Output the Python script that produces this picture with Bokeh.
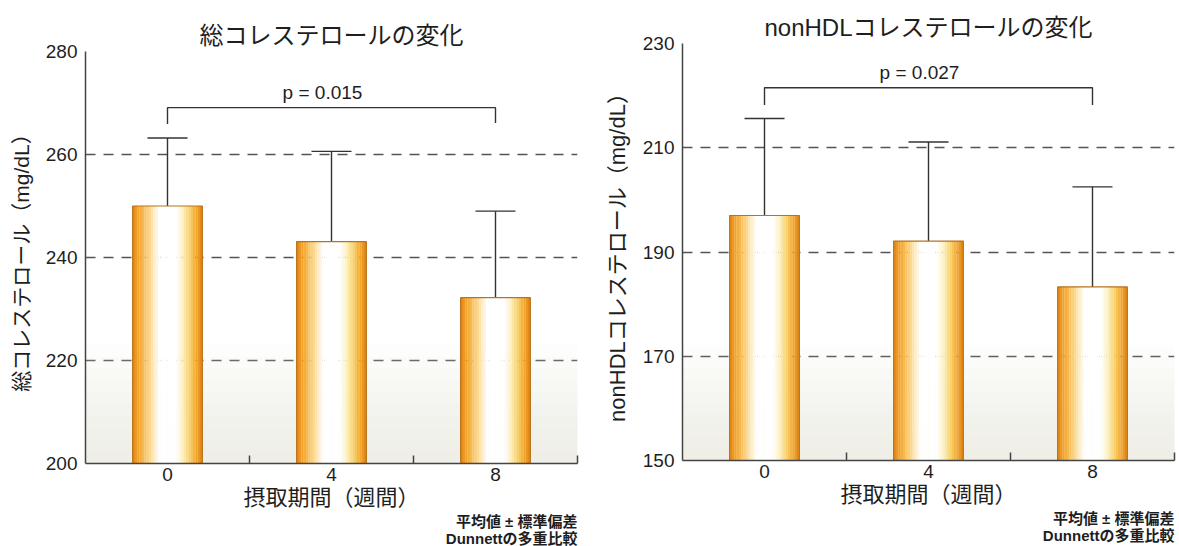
import numpy as np
from bokeh.plotting import figure
from bokeh.models import Range1d, FixedTicker, Label, BoxAnnotation, Title
from bokeh.layouts import row
from bokeh.embed import file_html
from bokeh.resources import INLINE

# ---------------- data ----------------
weeks = ["0", "4", "8"]

tc_mean = [250.0, 243.1, 232.2]
tc_sd = [13.2, 17.5, 16.8]
tc_bracket = [265.9, 269.1, 269.1, 266.1]   # left leg, top, top, right leg
tc_p = "p = 0.015"

nh_mean = [197.0, 192.1, 183.3]
nh_sd = [18.6, 19.0, 19.2]
nh_bracket = [218.2, 221.5, 221.5, 218.2]
nh_p = "p = 0.027"

tc_ticks = [200, 220, 240, 260, 280]
nh_ticks = [150, 170, 190, 210, 230]

notes = ["平均値 ± 標準偏差", "Dunnettの多重比較"]

# ---------------- style ----------------
FONT = "Liberation Sans, Noto Sans CJK JP"
TXT = "#1e1e1e"
AX = "#444444"
BW = 0.425
CAP = 0.122
N = 30
prof_pos = [0.0, 0.06, 0.15, 0.28, 0.38, 0.62, 0.72, 0.82, 0.92, 1.0]
prof_col = ["#e28610", "#f09a24", "#f7b94e", "#fde2a8", "#ffffff",
            "#ffffff", "#fdf0c2", "#f9d066", "#f2a530", "#de830e"]


def hex2rgb(h):
    return np.array([int(h[i:i + 2], 16) for i in (1, 3, 5)], dtype=float)


def interp_col(t):
    rgbs = np.array([hex2rgb(c) for c in prof_col])
    r = [np.interp(t, prof_pos, rgbs[:, k]) for k in range(3)]
    return "#%02x%02x%02x" % tuple(int(round(v)) for v in r)


def make_chart(title, ylabel, ylabel_size, means, sds, ticks, bracket, ptext,
               width, height, bl, br, bt, bb, gray_units):
    ymin, ymax = ticks[0], ticks[-1]
    ncat = len(weeks)
    p = figure(width=width, height=height, output_backend="svg",
               toolbar_location=None, x_range=Range1d(0, ncat),
               y_range=Range1d(ymin, ymax), min_border_left=bl,
               min_border_right=br, min_border_top=bt, min_border_bottom=bb)
    if "frame_align" in p.properties():
        p.frame_align = False
    p.outline_line_color = None
    p.background_fill_color = "white"
    p.border_fill_color = "white"

    p.title.text = title
    p.title.align = "center"
    p.title.text_font = FONT
    p.title.text_font_size = "24px"
    p.title.text_font_style = "normal"
    p.title.text_color = TXT
    p.title.standoff = 6

    # light gray background shading near bottom
    nb = 10
    for k in range(nb):
        p.add_layout(BoxAnnotation(bottom=ymin, top=ymin + gray_units * (k + 1) / nb,
                                   fill_color="#e6e5df", fill_alpha=0.08,
                                   line_alpha=0, level="underlay"))

    # axes
    xc = np.arange(ncat) + 0.5
    p.xaxis.ticker = FixedTicker(ticks=list(xc), minor_ticks=list(range(1, ncat + 1)))
    p.xaxis.major_label_overrides = {float(x): w for x, w in zip(xc, weeks)}
    p.xaxis.major_tick_in = 0
    p.xaxis.major_tick_out = 0
    p.xaxis.minor_tick_in = 8
    p.xaxis.minor_tick_out = 0
    p.xaxis.minor_tick_line_color = AX
    p.xaxis.minor_tick_line_width = 1.5
    p.xaxis.axis_label = "摂取期間（週間）"
    p.xaxis.axis_label_text_font_size = "22px"
    p.xaxis.major_label_standoff = 4
    p.xaxis.axis_label_standoff = 1

    p.yaxis.ticker = FixedTicker(ticks=ticks)
    p.yaxis.major_tick_in = 0
    p.yaxis.major_tick_out = 0
    p.yaxis.minor_tick_line_color = None
    p.yaxis.axis_label = ylabel
    p.yaxis.axis_label_text_font_size = ylabel_size
    p.yaxis.major_label_standoff = 8
    p.yaxis.axis_label_standoff = 10

    for ax in (p.xaxis, p.yaxis):
        ax.axis_line_color = AX
        ax.axis_line_width = 1.5
        ax.major_label_text_font = FONT
        ax.major_label_text_font_size = "19px"
        ax.major_label_text_color = TXT
        ax.axis_label_text_font = FONT
        ax.axis_label_text_font_style = "normal"
        ax.axis_label_text_color = TXT

    p.xgrid.grid_line_color = None
    p.ygrid.ticker = FixedTicker(ticks=ticks[1:-1])
    p.ygrid.grid_line_color = "#555555"
    p.ygrid.grid_line_width = 1.5
    p.ygrid.grid_line_dash = "10 8"

    means = np.array(means)
    sds = np.array(sds)
    tops = means + sds

    # error bars (upper only)
    p.segment(x0=xc, y0=means, x1=xc, y1=tops, line_color="#333333", line_width=1.4)
    p.segment(x0=xc - CAP, y0=tops, x1=xc + CAP, y1=tops, line_color="#333333", line_width=1.4)

    # gradient bars made of thin strips
    for i in range(N):
        t = (i + 0.5) / N
        off = -BW / 2 + (i + 0.5) * BW / N
        col = interp_col(t)
        p.vbar(x=xc + off, width=BW / N * 1.05, top=means, bottom=ymin,
               fill_color=col, line_color=None)
    p.vbar(x=xc, width=BW, top=means, bottom=ymin, fill_color=None,
           line_color="#b8731c", line_width=1.2)

    # significance bracket
    bx = [xc[0], xc[0], xc[-1], xc[-1]]
    p.line(x=bx, y=bracket, line_color="#333333", line_width=1.4)
    p.add_layout(Label(x=(xc[0] + xc[-1]) / 2 - 0.055, y=bracket[1], y_offset=15,
                       text=ptext, text_align="center", text_baseline="middle",
                       text_font=FONT, text_font_size="19px", text_color=TXT))

    # notes below the axis, right aligned
    for k, txt in enumerate(notes):
        p.add_layout(Title(text=txt, align="right", text_font=FONT,
                           text_font_size="15px", text_font_style="bold",
                           text_color=TXT, standoff=(-3 if k == 0 else -1)), "below")
    return p


p1 = make_chart("総コレステロールの変化", "総コレステロール（mg/dL）", "21px",
                tc_mean, tc_sd, tc_ticks, tc_bracket, tc_p, width=590, height=546,
                bl=85, br=13, bt=51, bb=83, gray_units=23)
p2 = make_chart("nonHDLコレステロールの変化", "nonHDLコレステロール（mg/dL）", "22px",
                nh_mean, nh_sd, nh_ticks, nh_bracket, nh_p, width=589, height=546,
                bl=92, br=5, bt=43, bb=86, gray_units=22)

layout = row(p1, p2)
open("out.html", "w").write(file_html(layout, INLINE))
